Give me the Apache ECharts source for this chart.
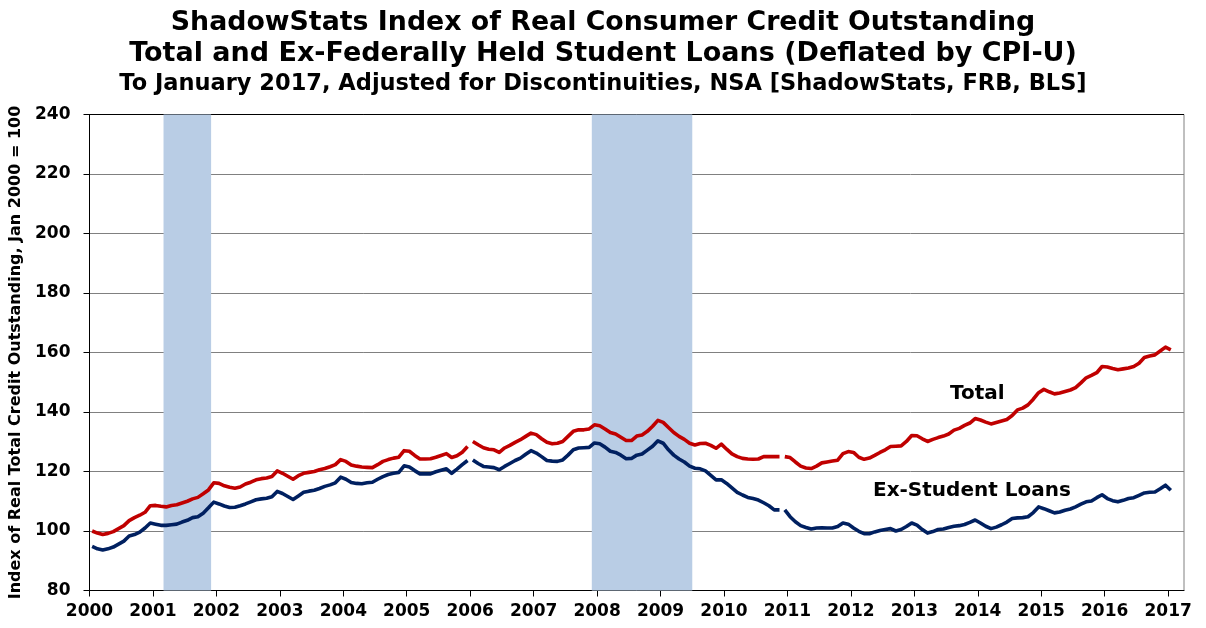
<!DOCTYPE html>
<html>
<head>
<meta charset="utf-8">
<script src="https://cdn.jsdelivr.net/npm/echarts@6/dist/echarts.min.js"></script>
<style>
html,body{margin:0;padding:0;background:#fff;}
#chart{width:1206px;height:628px;}
</style>
</head>
<body>
<div id="chart"></div>
<script>
// Monthly index values, Jan 2000 (index 0) through Jan 2017 (index 204)
const totalValues = [
100.0,99.3,98.8,99.2,99.8,100.8,101.8,103.5,104.5,105.3,106.3,108.5,
108.6,108.3,108.1,108.6,108.8,109.4,110.0,110.8,111.3,112.5,113.8,116.2,
116.0,115.2,114.7,114.4,114.8,115.8,116.4,117.2,117.6,117.8,118.3,120.2,
119.4,118.4,117.4,118.6,119.4,119.7,120.0,120.6,121.0,121.6,122.3,124.0,
123.4,122.2,121.8,121.5,121.4,121.3,122.3,123.4,124.0,124.5,124.8,127.0,
126.8,125.4,124.2,124.2,124.3,124.8,125.4,126.0,124.7,125.3,126.5,128.4,
130.1,129.0,128.0,127.5,127.3,126.4,127.9,128.8,129.8,130.7,131.8,132.9,
132.4,131.0,129.8,129.3,129.5,130.1,131.8,133.5,134.0,134.0,134.3,135.7,
135.4,134.3,133.1,132.6,131.5,130.4,130.4,131.9,132.3,133.5,135.2,137.2,
136.5,134.8,133.1,131.8,130.8,129.5,128.9,129.4,129.5,128.8,127.8,129.2,
127.5,125.9,125.0,124.4,124.2,124.1,124.2,125.0,125.0,125.0,125.0,125.0,
124.7,123.2,121.8,121.2,121.0,121.8,122.9,123.2,123.5,123.8,126.0,126.7,
126.4,124.8,124.1,124.5,125.4,126.4,127.3,128.4,128.5,128.6,130.1,132.1,
132.0,131.0,130.1,130.8,131.4,131.9,132.6,133.9,134.5,135.5,136.3,137.8,
137.3,136.6,136.0,136.5,137.0,137.5,138.8,140.7,141.3,142.4,144.3,146.5,
147.6,146.8,146.1,146.4,146.9,147.4,148.2,149.8,151.5,152.3,153.2,155.3,
155.1,154.6,154.2,154.5,154.8,155.3,156.4,158.3,158.8,159.2,160.5,161.8,
160.9
];
const exStudentValues = [
94.8,94.0,93.6,94.0,94.6,95.6,96.6,98.3,98.8,99.6,101.0,102.7,
102.3,101.9,101.9,102.1,102.3,103.0,103.6,104.5,104.8,106.0,107.8,109.7,
109.1,108.4,107.9,108.0,108.5,109.1,109.8,110.5,110.8,111.0,111.5,113.3,
112.6,111.6,110.6,111.8,113.0,113.4,113.7,114.3,115.0,115.5,116.2,118.1,
117.4,116.3,116.0,115.9,116.2,116.4,117.4,118.3,119.0,119.4,119.7,121.9,
121.5,120.3,119.2,119.2,119.2,119.9,120.4,120.9,119.4,120.8,122.3,123.7,
123.9,122.7,121.7,121.5,121.3,120.6,121.7,122.7,123.7,124.5,125.8,127.0,
126.2,125.0,123.7,123.5,123.4,123.9,125.5,127.3,127.9,128.0,128.1,129.6,
129.3,128.2,126.8,126.4,125.5,124.3,124.4,125.5,125.9,127.2,128.5,130.3,
129.5,127.3,125.5,124.2,123.2,121.8,121.1,120.9,120.2,118.7,117.2,117.2,
116.0,114.5,113.0,112.1,111.3,110.9,110.4,109.5,108.5,107.1,107.1,107.1,
104.8,103.1,101.8,101.2,100.7,101.0,101.1,101.0,101.0,101.5,102.7,102.3,
101.0,99.9,99.1,99.1,99.7,100.2,100.5,100.8,100.0,100.5,101.5,102.7,
102.0,100.5,99.3,99.8,100.5,100.7,101.2,101.6,101.8,102.2,102.9,103.7,
102.7,101.6,100.8,101.3,102.1,103.0,104.2,104.4,104.5,104.8,106.2,108.1,
107.5,106.8,106.1,106.4,107.0,107.4,108.1,109.0,109.8,110.1,111.2,112.2,
110.9,110.2,109.8,110.3,110.9,111.2,112.0,112.8,113.0,113.1,114.2,115.4,
113.7
];
// Discontinuity breaks (first month index of each new segment)
const segmentStarts = [0, 72, 131];
// Recessions as [start month index, end month index] from Jan 2000
const recessions = [[14, 23], [95, 114]];
const yearLabels = ['2000','2001','2002','2003','2004','2005','2006','2007','2008','2009','2010','2011','2012','2013','2014','2015','2016','2017'];
const yTicks = [80,100,120,140,160,180,200,220,240];
const titleLines = [
  'ShadowStats Index of Real Consumer Credit Outstanding',
  'Total and Ex-Federally Held Student Loans (Deflated by CPI-U)',
  'To January 2017, Adjusted for Discontinuities, NSA [ShadowStats, FRB, BLS]'
];

const FONT = '"DejaVu Sans", Arial, sans-serif';
const tickMonths = yearLabels.map((y, i) => i * 12);

function segments(values) {
  const out = [];
  for (let s = 0; s < segmentStarts.length; s++) {
    const a = segmentStarts[s];
    const b = s + 1 < segmentStarts.length ? segmentStarts[s + 1] : values.length;
    const pts = [];
    for (let i = a; i < b; i++) pts.push([i + 0.5, values[i]]);
    out.push(pts);
  }
  return out;
}

const series = [];
series.push({
  type: 'line', data: [], z: 1, silent: true,
  markArea: {
    silent: true,
    itemStyle: { color: '#b9cde5', opacity: 1 },
    data: recessions.map(r => [{ xAxis: r[0] }, { xAxis: r[1] }])
  }
});
segments(totalValues).forEach(d => series.push({
  type: 'line', data: d, showSymbol: false, symbol: 'none', z: 3,
  lineStyle: { color: '#c00000', width: 3.6, cap: 'butt', join: 'round' }
}));
segments(exStudentValues).forEach(d => series.push({
  type: 'line', data: d, showSymbol: false, symbol: 'none', z: 3,
  lineStyle: { color: '#002060', width: 3.6, cap: 'butt', join: 'round' }
}));

const chart = echarts.init(document.getElementById('chart'), null, { renderer: 'canvas' });
chart.setOption({
  animation: false,
  backgroundColor: '#fff',
  title: [
    { text: titleLines[0], left: 'center', top: 5, textStyle: { fontFamily: FONT, fontWeight: 'bold', fontSize: 26.8, color: '#000' } },
    { text: titleLines[1], left: 'center', top: 35, textStyle: { fontFamily: FONT, fontWeight: 'bold', fontSize: 27, color: '#000' } },
    { text: titleLines[2], left: 'center', top: 68, textStyle: { fontFamily: FONT, fontWeight: 'bold', fontSize: 22.5, color: '#000' } }
  ],
  grid: { left: 89.5, right: 22, top: 114.5, bottom: 37.5, show: true, borderColor: '#808080', borderWidth: 1, containLabel: false },
  xAxis: {
    type: 'value', min: 0, max: 207,
    axisLine: { show: true, onZero: false, lineStyle: { color: '#000', width: 1 } },
    axisTick: { show: true, length: 6, customValues: tickMonths, lineStyle: { color: '#000' } },
    axisLabel: {
      customValues: tickMonths,
      formatter: v => yearLabels[Math.round(v / 12)] || '',
      fontFamily: FONT, fontWeight: 'bold', fontSize: 17, color: '#000', margin: 13
    },
    splitLine: { show: false }
  },
  yAxis: {
    type: 'value', min: 80, max: 240, interval: 20,
    name: 'Index of Real Total Credit Outstanding, Jan 2000 = 100',
    nameLocation: 'middle', nameRotate: 90, nameGap: 64,
    nameTextStyle: { fontFamily: FONT, fontWeight: 'bold', fontSize: 16, color: '#000' },
    axisLine: { show: true, lineStyle: { color: '#000', width: 1 } },
    axisTick: { show: true, length: 6, lineStyle: { color: '#000' } },
    axisLabel: { fontFamily: FONT, fontWeight: 'bold', fontSize: 17, color: '#000', margin: 19 },
    splitLine: { show: true, lineStyle: { color: ['#808080','#808080','#808080','#808080','#808080','#808080','#808080','#808080','#000'], width: 1 } }
  },
  graphic: [
    { type: 'text', left: 950, top: 384, z: 10, style: { text: 'Total', font: 'bold 20px ' + FONT, fill: '#000' } },
    { type: 'text', left: 873, top: 481, z: 10, style: { text: 'Ex-Student Loans', font: 'bold 20px ' + FONT, fill: '#000' } }
  ],
  series: series
});
</script>
</body>
</html>
